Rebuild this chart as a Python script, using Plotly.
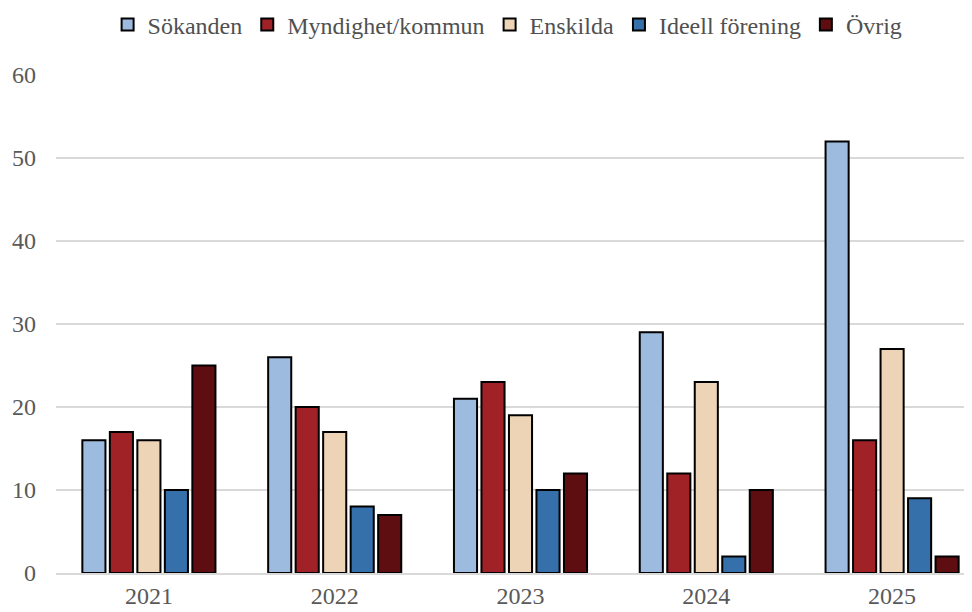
import plotly.graph_objects as go

years = ["2021", "2022", "2023", "2024", "2025"]
series = ["Sökanden", "Myndighet/kommun", "Enskilda", "Ideell förening", "Övrig"]
sokanden = [16, 26, 21, 29, 52]
myndighet = [17, 20, 23, 12, 16]
enskilda = [16, 17, 19, 23, 27]
ideell = [10, 8, 10, 2, 9]
ovrig = [25, 7, 12, 10, 2]

values = [sokanden, myndighet, enskilda, ideell, ovrig]
colors = ["#9DBBDF", "#A02226", "#EDD4B6", "#3570AA", "#5E0E10"]
serif = "Liberation Serif"

fig = go.Figure()
for name, vals, col in zip(series, values, colors):
    fig.add_trace(go.Bar(
        x=years, y=vals, name=name,
        marker=dict(color=col, line=dict(color="#000000", width=2)),
    ))

fig.update_layout(
    width=972, height=612,
    paper_bgcolor="white", plot_bgcolor="white",
    font=dict(family=serif, size=24, color="#595959"),
    barmode="group", bargap=0.26, bargroupgap=0.16,
    margin=dict(l=48, r=8, t=67, b=47, autoexpand=False),
    legend=dict(orientation="h", x=0.514, xanchor="center", xref="container",
                y=1 - 17 / 612, yanchor="middle", yref="container",
                font=dict(family=serif, size=24, color="#505050"),
                itemwidth=30, tracegroupgap=0),
    showlegend=True,
)
fig.update_xaxes(type="category", range=[-0.5, 4.43], showgrid=False, automargin=False,
                 showline=True, linecolor="#D9D9D9", linewidth=2, ticks="",
                 tickfont=dict(family=serif, size=24, color="#595959"))
fig.update_yaxes(range=[0, 60], dtick=10, showgrid=True, gridcolor="#D9D9D9", automargin=False,
                 gridwidth=1.5, zeroline=False, showline=False, ticks="", ticklabelstandoff=19,
                 tickfont=dict(family=serif, size=24, color="#595959"))

fig.write_html("out.html")
